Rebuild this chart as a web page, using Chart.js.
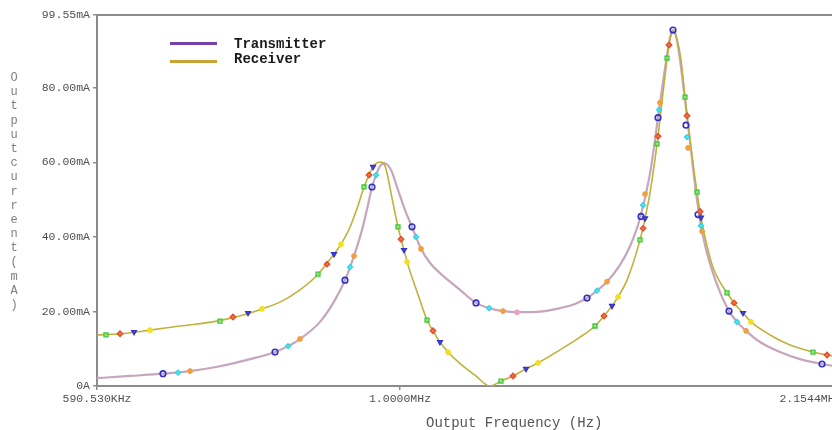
<!DOCTYPE html>
<html>
<head>
<meta charset="utf-8">
<script src="https://cdn.jsdelivr.net/npm/chart.js@4.4.1/dist/chart.umd.min.js"></script>
<style>
  html, body { margin: 0; padding: 0; background: #fff; overflow: hidden; }
  #wrap { position: relative; width: 832px; height: 430px; overflow: hidden; background: #fff; }
  #c { position: absolute; left: 0; top: 0; }
  .mono { font-family: "Liberation Mono", "DejaVu Sans Mono", monospace; position: absolute; white-space: pre; }
  #ytitle { left: 7px; top: 71px; width: 14px; font-size: 12px; color: #808080; text-align: center; }
  #ytitle span { display: block; height: 14.2px; line-height: 14.2px; }
  #ytitle span.sp { height: 0; overflow: hidden; }
  #xtitle { left: 426px; top: 414px; font-size: 14px; color: #555; line-height: 18px; }
  .legline { position: absolute; left: 170px; width: 47px; height: 3px; }
  .legtxt { left: 234px; font-size: 14px; font-weight: bold; color: #1a1a1a; line-height: 16px; }
</style>
</head>
<body>
<div id="wrap">
  <canvas id="c" width="900" height="430"></canvas>
  <div class="legline" style="top:42px;background:#7442a8;"></div>
  <div class="legline" style="top:60px;background:#c9a236;"></div>
  <div class="mono legtxt" style="top:36px;">Transmitter</div>
  <div class="mono legtxt" style="top:51px;">Receiver</div>
  <div class="mono" id="xtitle">Output Frequency (Hz)</div>
  <div class="mono" id="ytitle"></div>
</div>
<script>
// ---- axis ticks ----
const xTickValues = [590.53, 1000, 2154.4];           // kHz
const xTickLabels = ['590.530KHz', '1.0000MHz', '2.1544MHz'];
const yTickValues = [0, 20, 40, 60, 80, 99.55];       // mA
const yTickLabels = ['0A', '20.00mA', '40.00mA', '60.00mA', '80.00mA', '99.55mA'];
const yTitle = 'Output current (mA)';

// ---- Transmitter trace (frequency kHz, current mA) ----
const transFreq = [590.53, 625.4, 662.3, 694.2, 731.3, 770.5, 804.7, 823.1, 840.4, 870.2, 893.2, 908.8, 916.8, 923.2, 936.1, 945.9, 952.5, 959.2, 965.8, 972.6, 979.4, 986.2, 994.8, 1008.8, 1021.1, 1028.2, 1037.2, 1053.6, 1072.0, 1110.0, 1141.3, 1167.4, 1196.1, 1227.7, 1253.6, 1286.7, 1320.7, 1355.6, 1384.2, 1408.5, 1433.2, 1465.9, 1491.6, 1517.8, 1544.4, 1571.5, 1590.7, 1599.0, 1607.4, 1615.8, 1627.1, 1641.3, 1655.6, 1670.1, 1684.7, 1699.4, 1720.2, 1744.3, 1771.8, 1796.6, 1824.9, 1869.9, 1936.0, 2004.5, 2082.7, 2154.4];
const transCurr = [2.1, 2.7, 3.3, 4.0, 5.3, 7.2, 9.1, 10.7, 12.6, 17.2, 23.1, 28.4, 31.9, 34.9, 41.9, 48.6, 53.4, 56.6, 59.0, 59.8, 59.2, 57.4, 53.4, 47.2, 42.7, 40.0, 36.8, 33.0, 30.3, 25.8, 22.3, 20.9, 20.1, 19.8, 19.8, 20.1, 20.9, 22.0, 23.6, 25.6, 28.0, 32.5, 37.5, 45.0, 57.0, 76.0, 88.8, 93.5, 95.5, 94.0, 87.5, 76.7, 65.5, 54.0, 44.5, 37.8, 31.1, 25.2, 20.1, 17.2, 14.8, 11.8, 9.1, 7.2, 5.9, 5.0];

// ---- Receiver trace (frequency kHz, current mA) ----
const recvFreq = [590.53, 614.6, 647.5, 682.2, 727.5, 766.5, 786.7, 811.7, 840.4, 867.2, 891.6, 902.5, 916.8, 928.0, 939.4, 947.6, 954.2, 960.8, 967.5, 974.3, 977.7, 987.9, 996.5, 1007.0, 1014.0, 1030.0, 1048.1, 1059.0, 1072.0, 1087.1, 1110.0, 1139.3, 1169.4, 1191.9, 1217.1, 1244.9, 1271.2, 1320.7, 1367.5, 1403.6, 1425.7, 1445.7, 1460.8, 1483.9, 1517.8, 1531.1, 1544.4, 1566.0, 1582.5, 1596.3, 1607.4, 1618.6, 1629.9, 1641.3, 1649.9, 1658.5, 1675.9, 1690.5, 1705.3, 1723.2, 1744.3, 1765.6, 1787.2, 1815.4, 1840.8, 1902.7, 1970.0, 2050.3, 2100.9, 2154.4];
const recvCurr = [13.7, 14.0, 15.0, 16.1, 17.4, 19.3, 20.7, 22.5, 25.8, 30.0, 35.4, 38.0, 42.6, 47.6, 53.4, 56.6, 58.8, 59.9, 60.1, 59.0, 57.1, 49.1, 42.7, 36.5, 32.5, 25.3, 17.7, 14.8, 11.8, 9.1, 6.0, 2.9, 0, 1.3, 2.7, 4.6, 6.2, 9.7, 13.1, 16.1, 18.8, 21.5, 23.9, 28.4, 39.2, 45.0, 51.8, 67.0, 81.0, 91.5, 95.3, 93.0, 87.5, 77.5, 70.5, 64.0, 52.0, 43.8, 37.6, 31.8, 27.9, 25.0, 22.3, 19.6, 17.2, 13.7, 11.0, 9.1, 8.3, 7.6];

// ---- marker points on the traces [kHz, mA] ----
const recvGreenMarks = [[599.8,13.7],[731.3,17.4],[867.2,30.0],[939.4,53.4],[996.5,42.7],[1048.1,17.7],[1191.9,1.3],[1403.6,16.1],[1517.8,39.2],[1563.3,65.0],[1590.7,88.0],[1641.3,77.5],[1675.9,52.0],[1765.6,25.0],[2050.3,9.1]];
const recvRedMarks = [[614.6,14.0],[748.0,18.5],[880.8,32.7],[947.6,56.6],[1001.8,39.4],[1059.0,14.8],[1217.1,2.7],[1425.7,18.8],[1525.7,42.3],[1566.0,67.0],[1596.3,91.5],[1647.0,72.5],[1684.7,46.8],[1787.2,22.3],[2100.9,8.3]];
const recvBlueMarks = [[629.8,14.5],[767.8,19.6],[891.6,35.4],[954.2,58.8],[1007.0,36.5],[1072.0,11.8],[1244.9,4.6],[1445.7,21.5],[1531.1,45.0],[1687.6,45.2],[1815.4,19.6]];
const recvYellowMarks = [[647.5,15.0],[786.7,20.7],[902.5,38.0],[1012.3,33.3],[1087.1,9.1],[1271.2,6.2],[1460.8,23.9],[1840.8,17.2]];
const transBlueMarks = [[662.3,3.3],[804.7,9.1],[908.8,28.4],[952.5,53.4],[1021.1,42.7],[1141.3,22.3],[1384.2,23.6],[1520.4,45.5],[1566.0,72.0],[1607.4,95.5],[1644.1,70.0],[1678.8,46.0],[1771.8,20.1],[2082.7,5.9]];
const transCyanMarks = [[679.8,3.6],[823.1,10.7],[916.8,31.9],[959.2,56.6],[1028.2,40.0],[1167.4,20.9],[1408.5,25.6],[1525.7,48.5],[1568.8,74.1],[1647.0,66.8],[1687.6,43.0],[1796.6,17.2]];
const transOrangeMarks = [[694.2,4.0],[840.4,12.6],[923.2,34.9],[1037.2,36.8],[1196.1,20.1],[1433.2,28.0],[1531.1,51.5],[1571.5,76.0],[1649.9,63.9],[1690.5,41.5],[1824.9,14.8]];
const transPinkMarks = [[1225.6,19.8]];

// build the title spans
const yt = document.getElementById('ytitle');
for (const ch of yTitle) {
  const s = document.createElement('span');
  s.textContent = ch;
  if (ch === ' ') s.className = 'sp';
  yt.appendChild(s);
}

const toXY = (fs, vs) => fs.map((f, i) => ({x: f, y: vs[i]}));
const pairs = arr => arr.map(p => ({x: p[0], y: p[1]}));

function markerSet(arr, style, border, fill, opts) {
  return Object.assign({
    type: 'line', data: pairs(arr), showLine: false, order: 0,
    pointStyle: style, pointRadius: 2.8, pointBorderColor: border,
    pointBackgroundColor: fill, pointBorderWidth: 1.3, pointHoverRadius: 3
  }, opts || {});
}

const frame = {
  id: 'frame',
  afterDraw(chart) {
    const {ctx, chartArea: a} = chart;
    ctx.save();
    ctx.strokeStyle = '#8c8c8c';
    ctx.lineWidth = 2;
    ctx.beginPath();
    ctx.moveTo(a.left, a.top);
    ctx.lineTo(a.right, a.top);
    ctx.stroke();
    ctx.restore();
  }
};

const monoFont = {family: '"Liberation Mono", "DejaVu Sans Mono", monospace', size: 11.5};

new Chart(document.getElementById('c'), {
  type: 'line',
  data: {
    datasets: [
      markerSet(recvGreenMarks, 'rect', '#3cc83c', 'rgba(140,240,110,0.7)'),
      markerSet(recvRedMarks, 'rectRot', '#e0502c', '#f07048'),
      markerSet(recvBlueMarks, 'triangle', '#3434c4', '#4848d8', {rotation: 180}),
      markerSet(recvYellowMarks, 'star', '#f0e020', '#f0e020', {pointBorderWidth: 2}),
      markerSet(transBlueMarks, 'circle', '#3030c8', 'rgba(255,255,255,0)', {pointBorderWidth: 1.6}),
      markerSet(transCyanMarks, 'rectRot', '#30d4e0', '#50e8f0', {pointRadius: 2.5}),
      markerSet(transOrangeMarks, 'star', '#f0a040', '#f0a040', {pointBorderWidth: 2}),
      markerSet(transPinkMarks, 'star', '#e8a0c8', '#e8a0c8', {pointBorderWidth: 2}),
      {
        label: 'Receiver', data: toXY(recvFreq, recvCurr), order: 1,
        borderColor: '#bfb23a', borderWidth: 1.6, pointRadius: 0,
        cubicInterpolationMode: 'monotone', fill: false
      },
      {
        label: 'Transmitter', data: toXY(transFreq, transCurr), order: 2,
        borderColor: '#c6a6bc', borderWidth: 2.2, pointRadius: 0,
        cubicInterpolationMode: 'monotone', fill: false
      }
    ]
  },
  options: {
    responsive: false,
    animation: false,
    events: [],
    layout: {padding: {left: 0, right: 58.5, top: 15, bottom: 0}},
    plugins: {legend: {display: false}, tooltip: {enabled: false}},
    scales: {
      x: {
        type: 'logarithmic', min: 590.53, max: 2154.4,
        afterBuildTicks: s => { s.ticks = xTickValues.map(v => ({value: v})); },
        afterFit: s => { s.paddingLeft = 0; s.paddingRight = 0; s.height = 44; },
        ticks: {
          autoSkip: false, maxRotation: 0, minRotation: 0, padding: 2,
          color: '#505050', font: monoFont,
          callback: (v) => {
            const i = xTickValues.findIndex(t => Math.abs(t - v) < 0.01);
            if (i < 0) return '';
            return i === xTickValues.length - 1 ? xTickLabels[i] + ' '.repeat(xTickLabels[i].length) : xTickLabels[i];
          }
        },
        grid: {display: true, drawOnChartArea: false, drawTicks: true, tickLength: 4, tickColor: '#8c8c8c', lineWidth: 1.5},
        border: {display: true, color: '#8c8c8c', width: 2}
      },
      y: {
        type: 'linear', min: 0, max: 99.55,
        afterBuildTicks: s => { s.ticks = yTickValues.map(v => ({value: v})); },
        afterFit: s => { s.width = 97; s.paddingTop = 0; s.paddingBottom = 0; },
        ticks: {
          padding: 3, color: '#505050', font: monoFont,
          callback: (v) => {
            const i = yTickValues.findIndex(t => Math.abs(t - v) < 0.001);
            return i < 0 ? '' : yTickLabels[i];
          }
        },
        grid: {display: true, drawOnChartArea: false, drawTicks: true, tickLength: 4, tickColor: '#8c8c8c', lineWidth: 1.5},
        border: {display: true, color: '#8c8c8c', width: 2}
      }
    }
  },
  plugins: [frame]
});
</script>
</body>
</html>
